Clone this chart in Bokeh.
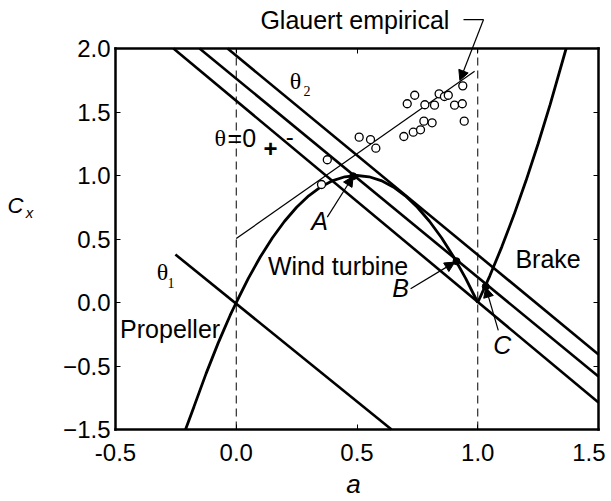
from bokeh.plotting import figure
from bokeh.models import Label, Arrow, NormalHead, LinearAxis, FixedTicker
from bokeh.embed import file_html
from bokeh.resources import INLINE

# ---- data ----
# momentum-theory curve: propeller / wind-turbine branch
a_curve = [-0.21, -0.175, -0.15, -0.125, -0.10, -0.075, -0.05, -0.025, 0.00, 0.05, 0.10, 0.15, 0.20,
           0.25, 0.30, 0.35, 0.40, 0.45, 0.50, 0.55, 0.60, 0.65, 0.70, 0.75, 0.80,
           0.85, 0.90, 0.95, 1.00]
cx_curve = [-1.00, -0.82, -0.69, -0.56, -0.44, -0.32, -0.21, -0.10, 0.00, 0.19, 0.36, 0.51, 0.64,
            0.75, 0.84, 0.91, 0.96, 0.99, 1.00, 0.99, 0.96, 0.91, 0.84, 0.75, 0.64,
            0.51, 0.36, 0.19, 0.00]
# brake branch
a_brake = [1.00, 1.05, 1.10, 1.15, 1.20, 1.25, 1.30, 1.366]
cx_brake = [0.00, 0.21, 0.44, 0.69, 0.96, 1.25, 1.56, 2.00]

# straight load lines
theta1_a = [-0.252, 0.643]
theta1_cx = [0.378, -1.00]
line_lo_a = [-0.26, 1.50]
line_lo_cx = [2.00, -0.787]
line_mid_a = [-0.152, 1.50]
line_mid_cx = [2.00, -0.583]
line_up_a = [-0.036, 1.50]
line_up_cx = [2.00, -0.409]

# Glauert empirical fit line
glauert_a = [0.00, 0.987]
glauert_cx = [0.504, 1.82]

# measured points (open circles)
meas_a = [0.353, 0.377, 0.509, 0.556, 0.578, 0.694, 0.733, 0.763, 0.777, 0.811, 0.708,
          0.739, 0.781, 0.821, 0.840, 0.862, 0.878, 0.904, 0.936, 0.938, 0.944]
meas_cx = [0.929, 1.124, 1.302, 1.283, 1.215, 1.307, 1.341, 1.360, 1.428, 1.415, 1.565,
           1.632, 1.557, 1.554, 1.643, 1.622, 1.632, 1.554, 1.565, 1.706, 1.428]

# operating points A, B, C
op_a = [0.484, 0.912, 1.033]
op_cx = [0.994, 0.325, 0.126]

# dashed reference lines at a = 0 and a = 1
ref_a = [0.0, 1.0]

x_ticks = [-0.5, 0.0, 0.5, 1.0, 1.5]
x_tick_labels = ["-0.5", "0.0", "0.5", "1.0", "1.5"]
y_ticks = [-1.0, -0.5, 0.0, 0.5, 1.0, 1.5, 2.0]
y_tick_labels = ["\u22121.5", "\u22120.5", "0.0", "0.5", "1.0", "1.5", "2.0"]

X_MIN, X_MAX = -0.5, 1.5
Y_MIN, Y_MAX = -1.0, 2.0

SANS = "Liberation Sans"
SERIF = "Liberation Serif"

# layout: the box spans 483 x 381 px, placed at (115, 48) in the 605 x 499 figure
W, H = 605, 499
BOX_L, BOX_T, BOX_W, BOX_H = 115, 48, 483, 381
sx = BOX_W / (X_MAX - X_MIN)
sy = BOX_H / (Y_MAX - Y_MIN)
xr = (X_MIN - BOX_L / sx, X_MIN + (W - BOX_L) / sx)
yr = (Y_MAX - (H - BOX_T) / sy, Y_MAX + BOX_T / sy)

p = figure(width=W, height=H, x_range=xr, y_range=yr,
           output_backend="svg", toolbar_location=None, min_border=0)
p.xgrid.visible = False
p.ygrid.visible = False
p.outline_line_color = None
p.background_fill_color = "white"
p.border_fill_color = "white"

# axes: a closed box with inward ticks, labelled on the left and bottom
p.xaxis.visible = False
p.yaxis.visible = False

def make_axis(side, ticks, labels, loc, bounds, show_labels):
    ax = LinearAxis(ticker=FixedTicker(ticks=ticks), fixed_location=loc, bounds=bounds,
                    major_tick_in=5, major_tick_out=0, major_tick_line_width=1,
                    minor_tick_line_color=None,
                    axis_line_color="black", axis_line_width=2.5, axis_line_cap="square",
                    major_label_text_font=SANS, major_label_text_font_size="24px",
                    major_label_text_color="black" if show_labels else None)
    ax.major_label_overrides = dict(zip(ticks, labels))
    p.add_layout(ax, side)
    return ax

bottom = make_axis("below", x_ticks, x_tick_labels, Y_MIN, (X_MIN, X_MAX), True)
bottom.major_label_standoff = 14
left = make_axis("left", y_ticks, y_tick_labels, X_MIN, (Y_MIN, Y_MAX), True)
left.major_label_standoff = 5
make_axis("above", x_ticks, x_tick_labels, Y_MAX, (X_MIN, X_MAX), False)
make_axis("right", y_ticks, y_tick_labels, X_MAX, (Y_MIN, Y_MAX), False)

# dashed verticals
p.segment(x0=ref_a, y0=[Y_MIN] * len(ref_a), x1=ref_a, y1=[Y_MAX] * len(ref_a),
          line_color="black", line_width=1, line_dash="8 5")

# curves and lines
p.line(a_curve, cx_curve, line_color="black", line_width=2.8)
p.line(a_brake, cx_brake, line_color="black", line_width=2.8)
for xs, ys in ((theta1_a, theta1_cx), (line_lo_a, line_lo_cx),
               (line_mid_a, line_mid_cx), (line_up_a, line_up_cx)):
    p.line(xs, ys, line_color="black", line_width=2.6)
p.line(glauert_a, glauert_cx, line_color="black", line_width=1.2)

p.scatter(meas_a, meas_cx, marker="circle", size=8, fill_color="white",
          line_color="black", line_width=1.3)
p.scatter(op_a, op_cx, marker="circle", size=7, fill_color="black", line_color="black")

# arrows
def arrow(x0, y0, x1, y1, head=True):
    end = NormalHead(size=10, fill_color="black", line_color="black") if head else None
    p.add_layout(Arrow(end=end, x_start=x0, y_start=y0, x_end=x1, y_end=y1,
                       line_color="black", line_width=1.2))

arrow(0.377, 0.672, 0.484, 0.994)
arrow(0.722, 0.108, 0.905, 0.318)
arrow(1.085, -0.22, 1.033, 0.12)
arrow(0.941, 2.228, 1.024, 2.228, head=False)
arrow(1.024, 2.228, 0.926, 1.748)

# labels
def lab(x, y, text, size="25px", font=SANS, style="normal", align="left"):
    p.add_layout(Label(x=x, y=y, text=text, text_font=font, text_font_size=size,
                       text_font_style=style, text_align=align, text_baseline="middle",
                       text_color="black"))

lab(0.100, 2.222, "Glauert empirical")
lab(0.245, 1.748, "\u03b8", size="24px", font=SERIF, align="center")
lab(0.293, 1.669, "2", size="14px", font=SERIF, align="center")
lab(-0.09, 1.299, "\u03b8", size="24px", font=SERIF)
lab(-0.036, 1.299, "=0")
lab(0.142, 1.213, "+", size="24px", style="bold", align="center")
lab(0.222, 1.307, "-", size="24px", align="center")
lab(-0.305, 0.244, "\u03b8", size="24px", font=SERIF, align="center")
lab(-0.27, 0.153, "1", size="14px", font=SERIF, align="center")
lab(-0.481, -0.205, "Propeller")
lab(0.131, 0.291, "Wind turbine")
lab(1.156, 0.346, "Brake")
lab(0.345, 0.638, "A", style="italic", align="center")
lab(0.680, 0.118, "B", style="italic", align="center")
lab(1.102, -0.331, "C", style="italic", align="center")
# axis titles
lab(-0.914, 0.764, "C", size="22px", style="italic", align="center")
lab(-0.856, 0.709, "x", size="15px", style="italic", align="center")
lab(0.4855, -1.433, "a", size="26px", style="italic", align="center")

open("out.html", "w").write(file_html(p, INLINE))
